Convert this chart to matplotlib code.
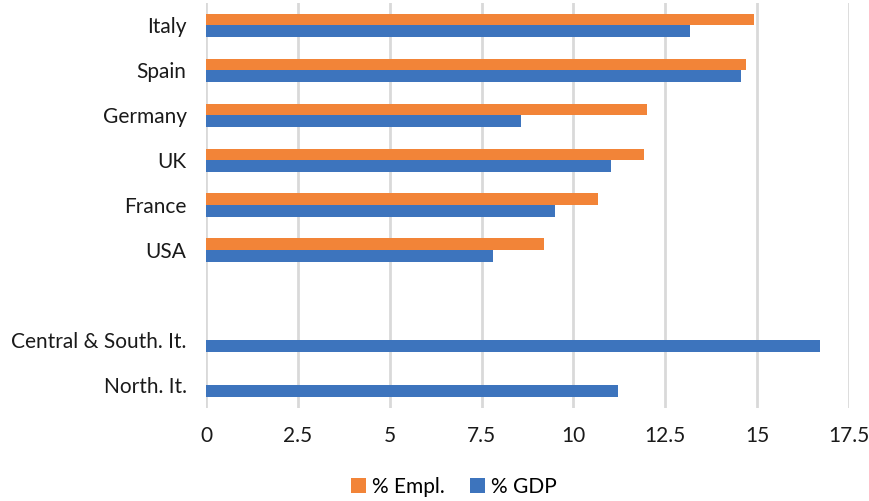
import numpy as np
import matplotlib.pyplot as plt

categories = ["Italy", "Spain", "Germany", "UK", "France", "USA", "",
              "Central & South. It.", "North. It."]
empl = [14.91, 14.69, 11.99, 11.92, 10.67, 9.20, np.nan, np.nan, np.nan]
gdp = [13.17, 14.55, 8.58, 11.02, 9.49, 7.82, np.nan, 16.70, 11.22]

plt.rcParams['font.family'] = ['Lato', 'DejaVu Sans']

fig = plt.figure(figsize=(8.69, 5.01), dpi=100)
ax = fig.add_axes([0.237, 0.186, 0.740, 0.808])

y = np.arange(len(categories))
h = 0.265
ax.barh(y - h / 2, empl, height=h, color="#F28438", label="% Empl.")
ax.barh(y + h / 2, gdp, height=h, color="#3D74BD", label="% GDP")

ax.set_ylim(len(categories) - 0.5, -0.5)
ax.set_xlim(0, 17.5)
ax.set_xticks(np.arange(0, 17.6, 2.5))
ax.set_xticklabels(["0", "2.5", "5", "7.5", "10", "12.5", "15", "17.5"])
ax.set_yticks(y)
ax.set_yticklabels(categories)
ax.tick_params(axis="both", length=0, labelsize=15, colors="#1a1a1a")
ax.tick_params(axis="x", pad=13)
ax.tick_params(axis="y", pad=14)
ax.grid(axis="x", color="#d9d9d9", linewidth=2)
ax.set_axisbelow(True)
for s in ax.spines.values():
    s.set_visible(False)

fig.legend(*ax.get_legend_handles_labels(), loc="center",
           bbox_to_anchor=(454 / 869, 1 - 487 / 501), ncol=2, frameon=False,
           fontsize=15, handlelength=0.7, handleheight=0.7, handletextpad=0.3,
           columnspacing=1.2)

fig.savefig("out.png", dpi=100)
